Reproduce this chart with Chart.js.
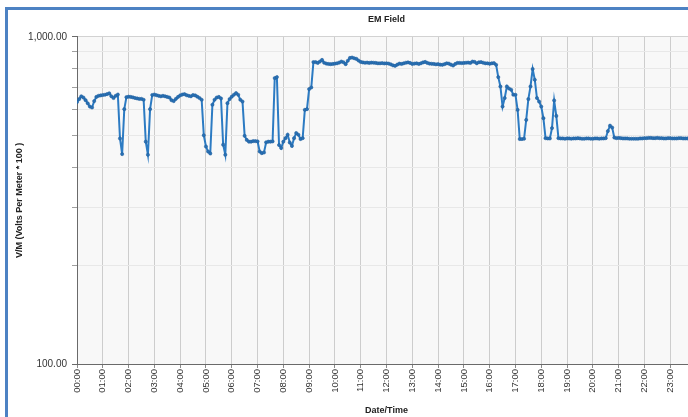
<!DOCTYPE html>
<html>
<head>
<meta charset="utf-8">
<script src="https://cdn.jsdelivr.net/npm/chart.js@4.4.1/dist/chart.umd.min.js"></script>
<style>
  html, body { margin: 0; padding: 0; overflow: hidden; background: #ffffff; width: 688px; height: 417px; }
  #frame { position: absolute; left: 5px; top: 7px; width: 820px; height: 430px;
           border-left: 3px solid #4d82c3; border-top: 3px solid #4d82c3; }
  #c { position: absolute; left: 0; top: 0; }
</style>
</head>
<body>
<div id="frame"><canvas id="c" width="757" height="407"></canvas></div>
<script>
// ---- data (V/M readings every 5 minutes) ----
const stepMinutes = 5;
const night = [ // 00:00 - 05:55
  632,645,658,652,640,626,612,608,636,655,660,662,
  664,665,668,672,658,650,660,666,489,438,601,654,
  656,655,653,650,648,646,646,642,478,436,601,664,
  666,663,660,658,660,658,655,652,640,636,646,655,
  662,666,668,663,660,658,664,662,656,650,642,500,
  462,446,440,620,642,652,655,648,468,436,627,645
];
const morning = [ // 06:00 - 11:55
  656,665,673,665,642,634,498,484,478,478,480,480,
  479,446,441,443,476,478,478,479,748,753,467,457,
  478,490,502,475,464,490,508,502,487,490,598,601,
  692,700,837,837,832,840,850,833,828,826,825,826,
  828,830,834,840,836,825,845,862,864,860,856,846,
  838,835,833,834,832,834,833,832,830,830,831,829
];
const afternoon = [ // 12:00 - 17:55
  830,828,824,818,815,822,828,826,830,833,835,832,
  826,828,830,826,830,835,838,832,828,827,826,824,
  825,822,821,825,830,828,822,817,826,832,832,831,
  832,833,834,832,840,838,830,836,837,833,830,830,
  827,830,831,821,753,705,612,650,705,695,689,665,
  665,598,487,487,488,557,645,705,797,739,650,634
];
const evening = [ // 18:00 - 23:55
  612,564,490,489,489,526,639,573,490,489,489,488,
  489,489,488,489,489,490,489,488,488,489,489,488,
  488,489,489,488,489,489,490,515,535,528,492,490,
  491,490,489,489,489,488,488,488,488,488,489,489,
  490,490,491,491,490,490,491,490,490,489,489,490,
  490,489,489,489,490,490,489,489,489,489,489,489
];
const hourLabels = ['00:00','01:00','02:00','03:00','04:00','05:00','06:00','07:00',
  '08:00','09:00','10:00','11:00','12:00','13:00','14:00','15:00','16:00','17:00',
  '18:00','19:00','20:00','21:00','22:00','23:00','24:00'];
const yGridValues = [100,200,300,400,500,600,700,800,900,1000];
const yLabelled = [100,1000];

const readings = night.concat(morning, afternoon, evening);
const points = readings.map((v, i) => ({ x: i * stepMinutes, y: v }));

const FONT = 'Liberation Sans, Arial, sans-serif';

const plotBg = {
  id: 'plotBg',
  beforeDraw(chart) {
    const { ctx, chartArea: a } = chart;
    ctx.save();
    ctx.fillStyle = '#f8f8f8';
    ctx.fillRect(a.left, a.top, a.right - a.left, a.bottom - a.top);
    ctx.restore();
  }
};

new Chart(document.getElementById('c'), {
  type: 'line',
  data: {
    datasets: [{
      data: points,
      borderColor: '#2c7bc3',
      borderWidth: 2,
      tension: 0,
      pointRadius: 1.6,
      pointBackgroundColor: '#2870b4',
      pointBorderColor: '#23629f',
      pointBorderWidth: 0.6,
      fill: false
    }]
  },
  options: {
    responsive: false,
    animation: false,
    devicePixelRatio: 1,
    layout: { padding: { left: 0, right: 69, top: 0, bottom: 0 } },
    plugins: {
      legend: { display: false },
      tooltip: { enabled: false },
      title: {
        display: true, text: 'EM Field', fullSize: false,
        color: '#222', font: { family: FONT, size: 9, weight: 'bold' },
        padding: { top: 4, bottom: 12 }
      }
    },
    scales: {
      x: {
        type: 'linear', min: 0, max: 1440,
        afterBuildTicks: s => { s.ticks = hourLabels.map((l, i) => ({ value: i * 60 })); },
        afterFit: s => { s.height = 53; },
        ticks: {
          autoSkip: false, minRotation: 90, maxRotation: 90, padding: 1,
          color: '#333', font: { family: FONT, size: 9.5 },
          callback: v => hourLabels[Math.round(v / 60)]
        },
        grid: { color: '#cdcdcd', tickLength: 4, tickColor: '#8a8a8a' },
        border: { color: '#6a6a6a' },
        title: {
          display: true, text: 'Date/Time', color: '#222',
          font: { family: FONT, size: 9, weight: 'bold' },
          padding: { top: 0, bottom: 1 }
        }
      },
      y: {
        type: 'logarithmic', min: 100, max: 1000,
        afterBuildTicks: s => { s.ticks = yGridValues.map(v => ({ value: v })); },
        afterFit: s => { s.width = 69; },
        ticks: {
          autoSkip: false, padding: 5, color: '#333',
          font: { family: FONT, size: 10 },
          callback: v => yLabelled.includes(v)
            ? v.toLocaleString('en-US', { minimumFractionDigits: 2, maximumFractionDigits: 2 })
            : ''
        },
        grid: {
          color: c => (c.tick && yLabelled.includes(c.tick.value)) ? '#d2d2d2' : '#e8e8e8',
          tickLength: 5,
          tickColor: c => (c.tick && yLabelled.includes(c.tick.value)) ? '#6a6a6a' : '#a0a0a0'
        },
        border: { color: '#6a6a6a' },
        title: {
          display: true, text: 'V/M (Volts Per Meter * 100 )', color: '#222',
          font: { family: FONT, size: 9, weight: 'bold' },
          padding: { top: 6, bottom: 0 }
        }
      }
    }
  },
  plugins: [plotBg]
});
</script>
</body>
</html>
